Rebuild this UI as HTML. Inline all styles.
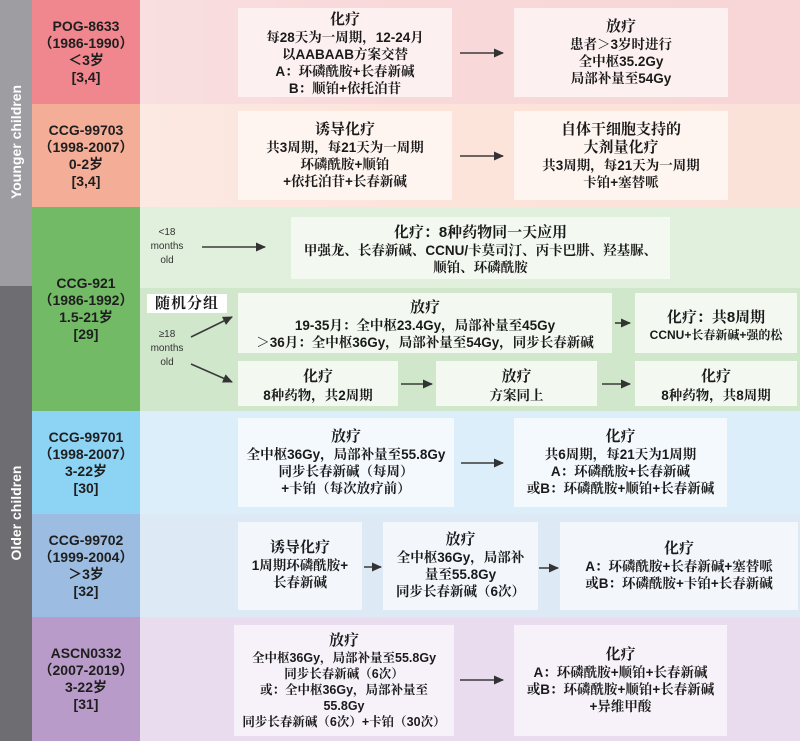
<!DOCTYPE html>
<html><head><meta charset="utf-8">
<style>
*{margin:0;padding:0;box-sizing:border-box}
body{width:800px;height:741px;position:relative;overflow:hidden;background:#fff;font-family:"Liberation Sans","Noto Serif CJK SC",serif;color:#1a1a1a}
.a{position:absolute}
.bg{position:absolute;left:140px;width:660px}
.lab{position:absolute;left:32px;width:108px;display:flex;flex-direction:column;justify-content:center;align-items:center;text-align:center;font-family:"Liberation Sans","Noto Sans CJK SC",sans-serif;font-weight:bold;font-size:14px;line-height:17px;color:#1e1e1e}
.box{position:absolute;display:flex;flex-direction:column;justify-content:center;align-items:center;text-align:center;font-weight:bold;font-size:13.5px;line-height:17px;white-space:nowrap}
.t{font-size:15px;line-height:18px}
.side{position:absolute;left:0;width:32px}
.vt{position:absolute;color:#fff;font-family:"Liberation Sans",sans-serif;font-weight:bold;font-size:14px;white-space:nowrap;transform:translate(-50%,-50%) rotate(-90deg)}
.sm{position:absolute;font-family:"Liberation Sans",sans-serif;font-size:10px;line-height:14px;color:#333;text-align:center;width:40px}
</style></head><body>

<!-- sidebar -->
<div class="side" style="top:0;height:286px;background:#9e9da1"></div>
<div class="side" style="top:286px;height:455px;background:#6e6d71"></div>
<div class="vt" style="left:16px;top:142px">Younger children</div>
<div class="vt" style="left:16px;top:513px">Older children</div>

<!-- content backgrounds -->
<div class="bg" style="top:0;height:104px;background:linear-gradient(90deg,#f9dfe0,#f9d8da 40%,#f8d6d8)"></div>
<div class="bg" style="top:104px;height:103px;background:linear-gradient(90deg,#fce9e2,#fce4db 40%,#fbe2d9)"></div>
<div class="bg" style="top:207px;height:81px;background:#e1efdd"></div>
<div class="bg" style="top:288px;height:123px;background:#d0e7cb"></div>
<div class="bg" style="top:411px;height:103px;background:#dbeefa"></div>
<div class="bg" style="top:514px;height:103px;background:#dde9f5"></div>
<div class="bg" style="top:617px;height:124px;background:#e9dcee"></div>

<!-- label column -->
<div class="lab" style="top:0;height:104px;background:#f0878f"><div>POG-8633</div><div>（1986-1990）</div><div>＜3岁</div><div>[3,4]</div></div>
<div class="lab" style="top:104px;height:103px;background:#f4ae98"><div>CCG-99703</div><div>（1998-2007）</div><div>0-2岁</div><div>[3,4]</div></div>
<div class="lab" style="top:207px;height:204px;background:#72ba66"><div>CCG-921</div><div>（1986-1992）</div><div>1.5-21岁</div><div>[29]</div></div>
<div class="lab" style="top:411px;height:103px;background:#8dd3f4"><div>CCG-99701</div><div>（1998-2007）</div><div>3-22岁</div><div>[30]</div></div>
<div class="lab" style="top:514px;height:103px;background:#9cbde1"><div>CCG-99702</div><div>（1999-2004）</div><div>＞3岁</div><div>[32]</div></div>
<div class="lab" style="top:617px;height:124px;background:#b89bc8"><div>ASCN0332</div><div>（2007-2019）</div><div>3-22岁</div><div>[31]</div></div>

<!-- Row 1 -->
<div class="box" style="left:238px;top:8px;width:214px;height:89px;background:#fdf0f1;padding-top:3px"><div class="t">化疗</div><div>每28天为一周期，12-24月</div><div>以AABAAB方案交替</div><div>A：环磷酰胺+长春新碱</div><div>B：顺铂+依托泊苷</div></div>
<div class="box" style="left:514px;top:8px;width:214px;height:89px;background:#fdf0f1"><div class="t">放疗</div><div>患者＞3岁时进行</div><div>全中枢35.2Gy</div><div>局部补量至54Gy</div></div>

<!-- Row 2 -->
<div class="box" style="left:238px;top:111px;width:214px;height:89px;background:#fef5f1"><div class="t">诱导化疗</div><div>共3周期，每21天为一周期</div><div>环磷酰胺+顺铂</div><div>+依托泊苷+长春新碱</div></div>
<div class="box" style="left:514px;top:111px;width:214px;height:89px;background:#fef5f1"><div class="t">自体干细胞支持的</div><div class="t">大剂量化疗</div><div>共3周期，每21天为一周期</div><div>卡铂+塞替哌</div></div>

<!-- Row 3 -->
<div class="sm" style="left:147px;top:226px">&lt;18<br>months<br>old</div>
<div class="box" style="left:291px;top:217px;width:379px;height:62px;background:#f3f9f1;padding-top:3px"><div class="t">化疗：8种药物同一天应用</div><div>甲强龙、长春新碱、CCNU/卡莫司汀、丙卡巴肼、羟基脲、</div><div>顺铂、环磷酰胺</div></div>
<div class="a" style="left:147px;top:294px;width:80px;height:19px;background:#fff;font-weight:bold;font-size:15px;line-height:19px;text-align:center;letter-spacing:1px">随机分组</div>
<div class="sm" style="left:147px;top:328px">≥18<br>months<br>old</div>
<div class="box" style="left:238px;top:293px;width:374px;height:60px;background:#f3f9f1;padding-top:3px"><div class="t">放疗</div><div>19-35月：全中枢23.4Gy，局部补量至45Gy</div><div>＞36月：全中枢36Gy，局部补量至54Gy，同步长春新碱</div></div>
<div class="box" style="left:635px;top:293px;width:162px;height:60px;background:#f3f9f1;padding-top:5px"><div class="t">化疗：共8周期</div><div style="font-size:12px;line-height:16px">CCNU+长春新碱+强的松</div></div>
<div class="box" style="left:238px;top:361px;width:160px;height:45px;background:#f3f9f1;padding-top:4px"><div class="t" style="line-height:20px">化疗</div><div>8种药物，共2周期</div></div>
<div class="box" style="left:436px;top:361px;width:161px;height:45px;background:#f3f9f1;padding-top:4px"><div class="t" style="line-height:20px">放疗</div><div>方案同上</div></div>
<div class="box" style="left:635px;top:361px;width:162px;height:45px;background:#f3f9f1;padding-top:4px"><div class="t" style="line-height:20px">化疗</div><div>8种药物，共8周期</div></div>

<!-- Row 4 -->
<div class="box" style="left:238px;top:418px;width:216px;height:89px;background:#f3f9fd"><div class="t">放疗</div><div>全中枢36Gy，局部补量至55.8Gy</div><div>同步长春新碱（每周）</div><div>+卡铂（每次放疗前）</div></div>
<div class="box" style="left:514px;top:418px;width:213px;height:89px;background:#f3f9fd"><div class="t">化疗</div><div>共6周期，每21天为1周期</div><div>A：环磷酰胺+长春新碱</div><div>或B：环磷酰胺+顺铂+长春新碱</div></div>

<!-- Row 5 -->
<div class="box" style="left:238px;top:522px;width:124px;height:88px;background:#f3f7fc;padding-bottom:2px"><div class="t">诱导化疗</div><div>1周期环磷酰胺+</div><div>长春新碱</div></div>
<div class="box" style="left:383px;top:522px;width:155px;height:88px;background:#f3f7fc;padding-bottom:2px"><div class="t">放疗</div><div>全中枢36Gy，局部补</div><div>量至55.8Gy</div><div>同步长春新碱（6次）</div></div>
<div class="box" style="left:560px;top:522px;width:238px;height:88px;background:#f3f7fc"><div class="t">化疗</div><div>A：环磷酰胺+长春新碱+塞替哌</div><div>或B：环磷酰胺+卡铂+长春新碱</div></div>

<!-- Row 6 -->
<div class="box" style="left:234px;top:625px;width:220px;height:111px;background:#f7f2f9;font-size:12.5px;line-height:16px"><div class="t">放疗</div><div>全中枢36Gy，局部补量至55.8Gy</div><div>同步长春新碱（6次）</div><div>或：全中枢36Gy，局部补量至</div><div>55.8Gy</div><div>同步长春新碱（6次）+卡铂（30次）</div></div>
<div class="box" style="left:514px;top:625px;width:213px;height:111px;background:#f7f2f9"><div class="t">化疗</div><div>A：环磷酰胺+顺铂+长春新碱</div><div>或B：环磷酰胺+顺铂+长春新碱</div><div>+异维甲酸</div></div>

<!-- arrows -->
<svg class="a" style="left:0;top:0" width="800" height="741" viewBox="0 0 800 741">
<defs><marker id="m" markerUnits="userSpaceOnUse" markerWidth="10" markerHeight="9" refX="9" refY="4.5" orient="auto"><path d="M0,0 L10,4.5 L0,9 z" fill="#333"/></marker></defs>
<g stroke="#3a3a3a" stroke-width="1.6" fill="none" marker-end="url(#m)">
<line x1="460" y1="53" x2="503" y2="53"/>
<line x1="460" y1="156" x2="503" y2="156"/>
<line x1="202" y1="247" x2="265" y2="247"/>
<line x1="191" y1="337" x2="232" y2="317"/>
<line x1="191" y1="364" x2="232" y2="382"/>
<line x1="615" y1="323" x2="630" y2="323"/>
<line x1="401" y1="384" x2="432" y2="384"/>
<line x1="602" y1="384" x2="630" y2="384"/>
<line x1="461" y1="463" x2="503" y2="463"/>
<line x1="364" y1="567" x2="381" y2="567"/>
<line x1="539" y1="568" x2="558" y2="568"/>
<line x1="460" y1="680" x2="503" y2="680"/>
</g>
</svg>
</body></html>
